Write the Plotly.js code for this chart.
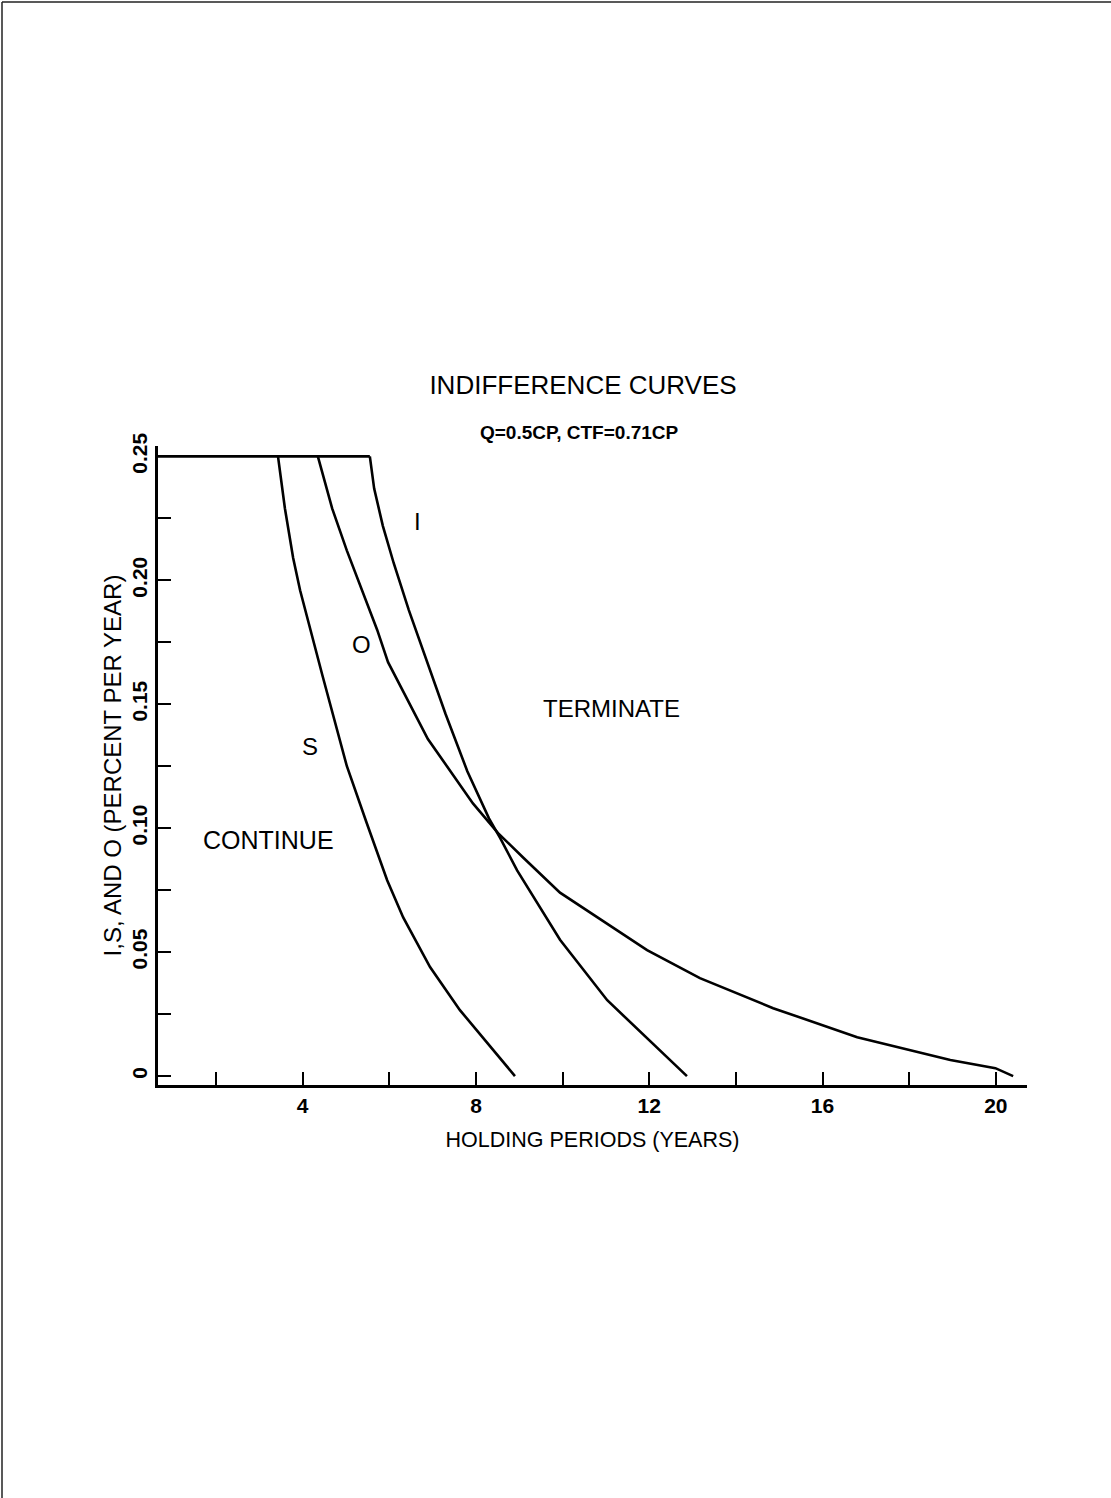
<!DOCTYPE html>
<html>
<head>
<meta charset="utf-8">
<script src="https://cdn.plot.ly/plotly-3.0.1.min.js"></script>
<style>
  html, body { margin: 0; padding: 0; background: #ffffff; }
  #chart { width: 1111px; height: 1498px; }
</style>
</head>
<body>
<div id="chart"></div>
<script>
// Holding period (years) vs rate (percent per year)
const capYears = [0.66, 5.55];
const capRate  = [0.25, 0.25];

const sYears = [3.43, 3.59, 3.78, 3.94, 4.45, 5.02, 5.48, 5.95, 6.32, 6.94, 7.63, 8.26, 8.9];
const sRate  = [0.25, 0.229, 0.209, 0.196, 0.162, 0.125, 0.102, 0.079, 0.064, 0.044, 0.0266, 0.0133, 0.0];

const oYears = [4.35, 4.68, 5.02, 5.39, 5.72, 5.97, 6.89, 7.93, 8.51, 9.1, 9.94, 11.95, 13.17, 14.86, 16.8, 18.95, 19.99, 20.4];
const oRate  = [0.25, 0.229, 0.212, 0.195, 0.18, 0.167, 0.136, 0.110, 0.098, 0.088, 0.074, 0.0508, 0.0395, 0.0274, 0.0157, 0.0065, 0.0032, 0.0];

const iYears = [5.55, 5.65, 5.85, 6.1, 6.45, 6.9, 7.3, 7.8, 8.3, 8.56, 8.95, 9.94, 11.03, 12.87];
const iRate  = [0.25, 0.237, 0.222, 0.207, 0.188, 0.166, 0.146, 0.123, 0.104, 0.096, 0.083, 0.055, 0.0306, 0.0];

const xTickVals = [2, 4, 6, 8, 10, 12, 14, 16, 18, 20];
const xTickText = ['', '4', '', '8', '', '12', '', '16', '', '20'];
const yTickVals = [0, 0.025, 0.05, 0.075, 0.1, 0.125, 0.15, 0.175, 0.2, 0.225, 0.25];
const yTickText = ['0', '', '0.05', '', '0.10', '', '0.15', '', '0.20', '', '0.25'];

const regionLabels = ['I', 'O', 'S', 'TERMINATE', 'CONTINUE'];
const regionX = [6.64, 5.35, 4.17, 11.14, 3.2];
const regionY = [0.2238, 0.1742, 0.133, 0.1484, 0.0952];

const FONT = 'Liberation Sans, Arial, Helvetica, sans-serif';
const lineStyle = { color: '#000000', width: 2.6 };

const traces = [
  { x: capYears, y: capRate, mode: 'lines', line: lineStyle, name: 'cap', hoverinfo: 'skip' },
  { x: sYears, y: sRate, mode: 'lines', line: lineStyle, name: 'S' },
  { x: oYears, y: oRate, mode: 'lines', line: lineStyle, name: 'O' },
  { x: iYears, y: iRate, mode: 'lines', line: lineStyle, name: 'I' }
];

const annotations = regionLabels.map((t, k) => ({
  x: regionX[k], y: regionY[k], xref: 'x', yref: 'y', text: t, showarrow: false,
  xanchor: 'center', yanchor: 'middle',
  font: { family: FONT, size: t === 'CONTINUE' ? 25 : 24, color: '#000000' }
}));

annotations.push({
  xref: 'paper', yref: 'paper', x: (579 - 158) / 869, y: (1085 - 433) / 639,
  text: 'Q=0.5CP, CTF=0.71CP', showarrow: false, xanchor: 'center', yanchor: 'middle',
  font: { family: FONT, size: 19, color: '#000000', weight: 'bold' }
});

const layout = {
  width: 1111, height: 1498,
  margin: { l: 158, r: 84, t: 446, b: 413 },
  paper_bgcolor: '#ffffff', plot_bgcolor: '#ffffff',
  showlegend: false,
  title: {
    text: 'INDIFFERENCE CURVES',
    x: 583 / 1111, xanchor: 'center',
    y: 1 - 385 / 1498, yanchor: 'middle',
    font: { family: FONT, size: 26, color: '#000000' }
  },
  xaxis: {
    range: [0.66, 20.72],
    showgrid: false, zeroline: false,
    showline: true, linecolor: '#000000', linewidth: 3,
    ticks: 'inside', ticklen: 13, tickwidth: 2, tickcolor: '#000000',
    tickmode: 'array', tickvals: xTickVals, ticktext: xTickText,
    tickfont: { family: FONT, size: 21, color: '#000000', weight: 'bold' },
    title: { text: 'HOLDING PERIODS (YEARS)', standoff: 16,
             font: { family: FONT, size: 21.5, color: '#000000' } }
  },
  yaxis: {
    range: [-0.0036, 0.2542],
    showgrid: false, zeroline: false,
    showline: true, linecolor: '#000000', linewidth: 3,
    ticks: 'inside', ticklen: 13, tickwidth: 2, tickcolor: '#000000',
    tickmode: 'array', tickvals: yTickVals, ticktext: yTickText,
    tickangle: -90,
    tickfont: { family: FONT, size: 21, color: '#000000', weight: 'bold' },
    title: { text: 'I,S, AND O (PERCENT PER YEAR)', standoff: 0,
             font: { family: FONT, size: 24, color: '#000000' } }
  },
  annotations: annotations,
  shapes: [
    { type: 'line', xref: 'paper', yref: 'paper',
      x0: (2 - 158) / 869, x1: (2 - 158) / 869, y0: (1085 - 1498) / 639, y1: (1085 - 2) / 639,
      line: { color: '#222222', width: 1.5 } },
    { type: 'line', xref: 'paper', yref: 'paper',
      x0: (2 - 158) / 869, x1: (1111 - 158) / 869, y0: (1085 - 2) / 639, y1: (1085 - 2) / 639,
      line: { color: '#222222', width: 1.5 } }
  ]
};

Plotly.newPlot('chart', traces, layout, { staticPlot: true, displayModeBar: false });
</script>
</body>
</html>
